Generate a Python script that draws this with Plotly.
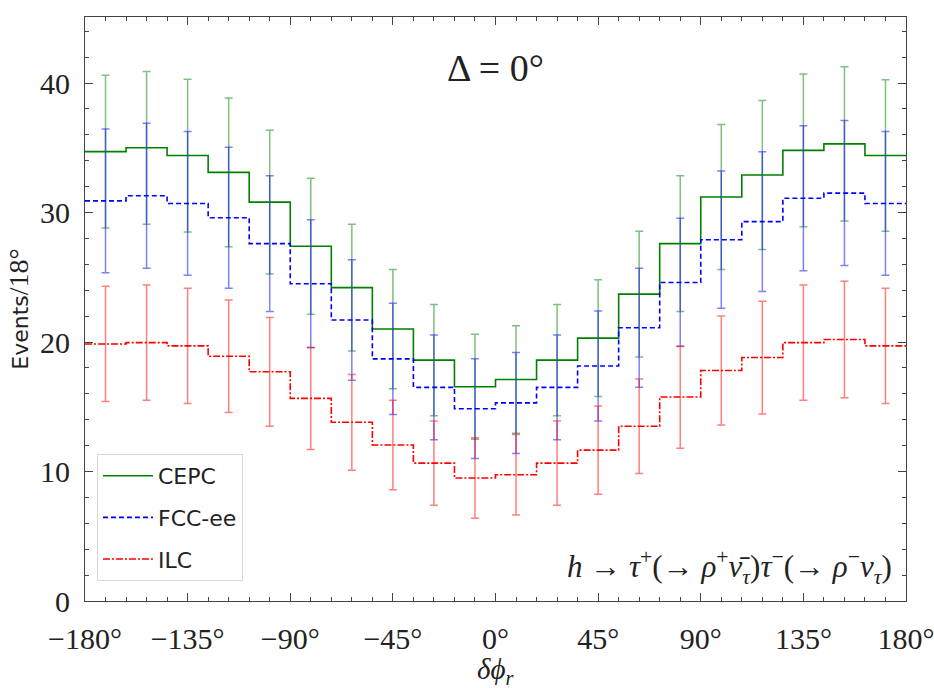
import plotly.graph_objects as go

# Bin centers (degrees), 18-degree bins from -180 to 180
bin_width = 18
bin_centers = [-171, -153, -135, -117, -99, -81, -63, -45, -27, -9,
               9, 27, 45, 63, 81, 99, 117, 135, 153, 171]

cepc = [34.7, 35.0, 34.4, 33.1, 30.8, 27.4, 24.2, 21.0, 18.6, 16.55,
        17.1, 18.6, 20.3, 23.7, 27.6, 31.2, 32.9, 34.8, 35.3, 34.4]
cepc_err = [5.9, 5.9, 5.9, 5.75, 5.55, 5.25, 4.9, 4.6, 4.3, 4.05,
            4.15, 4.3, 4.5, 4.85, 5.25, 5.6, 5.75, 5.9, 5.95, 5.85]

fcc = [30.9, 31.3, 30.7, 29.6, 27.6, 24.5, 21.7, 18.7, 16.5, 14.85,
       15.3, 16.5, 18.15, 21.1, 24.6, 27.9, 29.3, 31.1, 31.5, 30.7]
fcc_err = [5.55, 5.6, 5.55, 5.45, 5.25, 4.95, 4.65, 4.3, 4.05, 3.85,
           3.9, 4.05, 4.25, 4.6, 4.95, 5.3, 5.4, 5.6, 5.6, 5.55]

ilc = [19.85, 19.95, 19.7, 18.9, 17.7, 15.65, 13.8, 12.05, 10.65, 9.5,
       9.75, 10.65, 11.65, 13.5, 15.75, 17.8, 18.8, 19.95, 20.2, 19.7]
ilc_err = [4.45, 4.45, 4.45, 4.35, 4.2, 3.95, 3.7, 3.45, 3.25, 3.1,
           3.1, 3.25, 3.4, 3.65, 3.95, 4.2, 4.35, 4.45, 4.5, 4.45]

xtick_vals = [-180, -135, -90, -45, 0, 45, 90, 135, 180]
xtick_text = ["\u2212180\u00b0", "\u2212135\u00b0", "\u221290\u00b0", "\u221245\u00b0",
              "0\u00b0", "45\u00b0", "90\u00b0", "135\u00b0", "180\u00b0"]
ytick_vals = [0, 10, 20, 30, 40]

series = [
    ("CEPC", cepc, cepc_err, "#008000", "rgba(0,128,0,0.5)", "solid"),
    ("FCC-ee", fcc, fcc_err, "#0000ff", "rgba(0,0,255,0.5)", "5px,3px"),
    ("ILC", ilc, ilc_err, "#ff0000", "rgba(255,0,0,0.5)", "7px,2px,2px,2px"),
]

edges = [c - bin_width / 2 for c in bin_centers] + [bin_centers[-1] + bin_width / 2]

fig = go.Figure()
for name, vals, errs, col, ecol, dash in series:
    fig.add_trace(go.Scatter(
        x=bin_centers, y=vals, mode="markers",
        marker=dict(size=0.1, color="rgba(0,0,0,0)"),
        error_y=dict(type="data", array=errs, color=ecol, thickness=1.5, width=4),
        showlegend=False, hoverinfo="skip"))
for name, vals, errs, col, ecol, dash in series:
    fig.add_trace(go.Scatter(
        x=edges, y=vals + [vals[-1]], mode="lines", name=name,
        line=dict(color=col, width=1.6, dash=dash, shape="hv"),
        legendgroup=name))

serif = "Liberation Serif"
sans = "DejaVu Sans"
axis_common = dict(showline=True, linecolor="#444", linewidth=1.2, mirror="ticks",
                   ticks="inside", ticklen=8, tickcolor="#444", tickwidth=1.2,
                   showgrid=False, zeroline=False, automargin=False,
                   ticklabeloverflow="allow",
                   tickfont=dict(family=serif, size=30, color="#222"))

fig.update_xaxes(range=[-180, 180], tickvals=xtick_vals, ticktext=xtick_text,
                 ticklabelstandoff=11,
                 minor=dict(dtick=9, tick0=0, ticks="inside", ticklen=4, tickcolor="#444"),
                 **axis_common)
fig.update_yaxes(range=[0, 45.1], tickvals=ytick_vals, ticklabelstandoff=8,
                 minor=dict(dtick=2, tick0=0, ticks="inside", ticklen=4, tickcolor="#444"),
                 title=dict(text="Events<span style='font-family:Liberation Serif;font-size:28px'>/18\u00b0</span>",
                            font=dict(family=sans, size=22, color="#222"),
                            standoff=5),
                 **axis_common)

# x-axis title placed as annotation for precise vertical position
fig.add_annotation(x=0.5, y=-0.12, xref="paper", yref="paper", showarrow=False,
                   text="<i>\u03b4\u03d5</i><sub><i>r</i></sub>",
                   font=dict(family=serif, size=29, color="#222"),
                   xanchor="center", yanchor="middle")
fig.add_annotation(x=0.5, y=0.912, xref="paper", yref="paper", showarrow=False,
                   text="\u0394 = 0\u00b0", font=dict(family=serif, size=38, color="#222"),
                   xanchor="center", yanchor="middle")
fig.add_annotation(x=0.985, y=0.058, xref="paper", yref="paper", showarrow=False,
                   text="<i>h</i> \u2192 <i>\u03c4</i><sup>+</sup>(\u2192 <i>\u03c1</i><sup>+</sup>"
                        "<i>\u03bd\u0304</i><sub><i>\u03c4</i></sub>)<i>\u03c4</i><sup>\u2212</sup>"
                        "(\u2192 <i>\u03c1</i><sup>\u2212</sup><i>\u03bd</i><sub><i>\u03c4</i></sub>)",
                   font=dict(family=serif, size=31, color="#222"),
                   xanchor="right", yanchor="middle")

fig.update_layout(
    width=934, height=688,
    margin=dict(l=85, r=28, t=17, b=87),
    plot_bgcolor="white", paper_bgcolor="white",
    legend=dict(x=0.0146, y=0.2517, xanchor="left", yanchor="top",
                bgcolor="white", bordercolor="#d8d8d8", borderwidth=1,
                font=dict(family=sans, size=22, color="#222"),
                traceorder="grouped", tracegroupgap=10, itemwidth=50),
)

fig.write_html("out.html")
